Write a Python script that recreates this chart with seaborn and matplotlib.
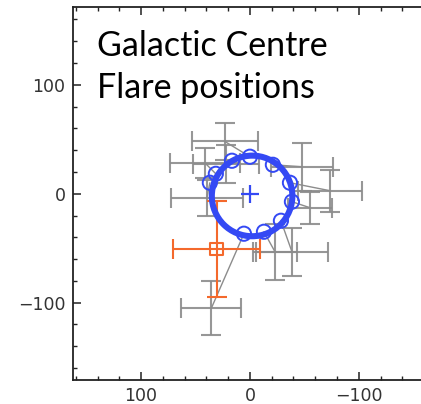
import numpy as np
import pandas as pd
import matplotlib
matplotlib.use("Agg")
import matplotlib.pyplot as plt
from matplotlib.patches import Circle
from matplotlib.ticker import MultipleLocator
import seaborn as sns

# Flare positions (offsets in the sky plane) with their uncertainties
flare_x = [23.0, 22.1, 41.4, 39.5, -47.8, -73.5, -55.1, -38.6, -23.0, 35.4]
flare_y = [48.0, 27.1, 28.4, -3.7, 24.8, 2.8, -12.8, -53.2, -53.2, -105.0]
flare_xerr = [30.6, 30.3, 32.2, 33.1, 28.5, 29.4, 20.2, 33.1, 20.2, 27.6]
flare_yerr = [16.9, 17.4, 13.8, 16.5, 22.0, 19.3, 14.7, 22.0, 25.7, 24.8]

# Corresponding points on the fitted orbit loop
loop_x = [0.0, 16.5, 31.3, 36.8, -21.1, -36.8, -38.6, -28.5, -12.9, 5.5]
loop_y = [34.0, 30.3, 18.3, 10.1, 26.6, 10.1, -7.3, -24.8, -34.9, -36.7]

# Fitted loop: centre and radius
loop_centre = (-2.0, -2.0)
loop_radius = 37.0

# Mean flare position
mean_x, mean_y = [30.6], [-50.7]
mean_xerr, mean_yerr = [40.0], [44.5]

# Sgr A* reference position
ref_x, ref_y = [0.0], [0.0]

title_lines = ["Galactic Centre", "Flare positions"]

BLUE = "#3449f4"
ORANGE = "#f4692c"
GREY = "#8c8c8c"

sns.set_style("ticks")
plt.rcParams["font.family"] = ["DejaVu Sans"]

fig = plt.figure(figsize=(4.21, 4.04), dpi=100)
ax = fig.add_axes([72.5 / 421, 24 / 404, 357 / 421, 372.5 / 404])

# connectors from each flare to its point on the loop
for fx, fy, lx, ly in zip(flare_x, flare_y, loop_x, loop_y):
    ax.plot([fx, lx], [fy, ly], color=GREY, lw=1.0, zorder=1)

ax.errorbar(flare_x, flare_y, xerr=flare_xerr, yerr=flare_yerr, fmt="none",
            ecolor=GREY, elinewidth=1.5, capsize=7, capthick=1.5,
            alpha=0.9, zorder=2)

ax.errorbar(mean_x, mean_y, xerr=mean_xerr, yerr=mean_yerr, fmt="none",
            ecolor=ORANGE, elinewidth=1.5, capsize=7, capthick=1.5, zorder=3)
sns.scatterplot(x=mean_x, y=mean_y, marker="s", s=80, facecolor="none",
                edgecolor=ORANGE, linewidth=1.5, ax=ax, zorder=4)

ax.add_patch(Circle(loop_centre, loop_radius, fill=False, edgecolor=BLUE,
                    lw=4.4, zorder=5))
sns.scatterplot(x=loop_x, y=loop_y, marker="o", s=105, facecolor="none",
                edgecolor=BLUE, linewidth=1.4, ax=ax, zorder=6)
sns.scatterplot(x=ref_x, y=ref_y, marker="+", s=150, color=BLUE,
                linewidth=1.6, ax=ax, zorder=7)

ax.set_xlim(163, -165)
ax.set_ylim(-171, 171)

ax.xaxis.set_major_locator(MultipleLocator(100))
ax.xaxis.set_minor_locator(MultipleLocator(20))
ax.yaxis.set_major_locator(MultipleLocator(100))
ax.yaxis.set_minor_locator(MultipleLocator(20))
ax.tick_params(which="both", direction="in", top=True, right=True,
               colors="#222222", labelcolor="#333333")
ax.tick_params(which="major", length=5.5, width=1.1, labelsize=12.5, pad=5)
ax.tick_params(which="minor", length=3, width=1.0)
for sp in ax.spines.values():
    sp.set_linewidth(1.3)
    sp.set_color("#222222")

fig.text(97 / 421, (404 - 56.5) / 404, title_lines[0], fontsize=24.5,
         family=["Lato", "DejaVu Sans"], color="black", va="baseline")
fig.text(97 / 421, (404 - 97.5) / 404, title_lines[1], fontsize=24.5,
         family=["Lato", "DejaVu Sans"], color="black", va="baseline")

fig.savefig("out.png", dpi=100)
